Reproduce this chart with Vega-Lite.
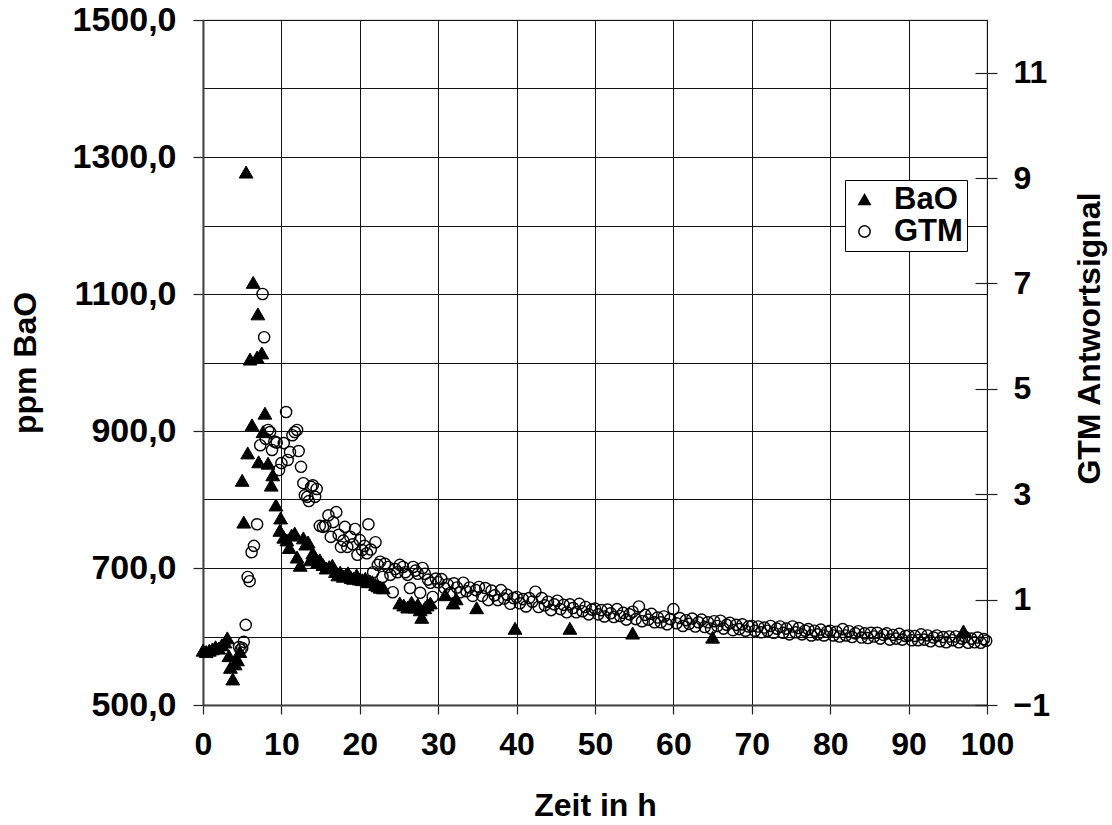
{
  "$schema": "https://vega.github.io/schema/vega-lite/v6.json",
  "width": 784,
  "height": 685,
  "autosize": {"type": "none"},
  "padding": {"left": 203, "top": 20, "right": 125, "bottom": 120},
  "background": "white",
  "config": {
    "font": "Liberation Sans",
    "view": {"stroke": "#7f7f7f", "strokeWidth": 1.2},
    "axis": {
      "labelFont": "Liberation Sans",
      "labelFontWeight": "bold",
      "labelColor": "black",
      "titleFont": "Liberation Sans",
      "titleFontWeight": "bold",
      "titleColor": "black",
      "tickColor": "#222",
      "tickWidth": 1.2,
      "domainColor": "#444",
      "domainWidth": 2,
      "gridColor": "#111",
      "gridWidth": 1,
      "gridOpacity": 1
    }
  },
  "datasets": {
    "bao": [
      {"t": 0.0, "v": 580}, {"t": 0.4, "v": 578}, {"t": 0.8, "v": 580}, {"t": 1.2, "v": 582},
      {"t": 1.6, "v": 585}, {"t": 2.0, "v": 583}, {"t": 2.4, "v": 588}, {"t": 2.8, "v": 592},
      {"t": 3.1, "v": 598}, {"t": 3.3, "v": 572}, {"t": 3.5, "v": 555}, {"t": 3.8, "v": 538},
      {"t": 4.1, "v": 560}, {"t": 4.4, "v": 566}, {"t": 4.7, "v": 578}, {"t": 5.0, "v": 828},
      {"t": 5.2, "v": 767}, {"t": 5.5, "v": 1278}, {"t": 5.7, "v": 868}, {"t": 6.0, "v": 1005},
      {"t": 6.25, "v": 909}, {"t": 6.4, "v": 1117}, {"t": 6.9, "v": 1008}, {"t": 7.0, "v": 1071},
      {"t": 7.1, "v": 855}, {"t": 7.5, "v": 1014}, {"t": 7.65, "v": 899}, {"t": 7.9, "v": 926},
      {"t": 8.3, "v": 853}, {"t": 8.7, "v": 821}, {"t": 8.9, "v": 836}, {"t": 9.3, "v": 792},
      {"t": 9.8, "v": 755}, {"t": 9.9, "v": 773}, {"t": 10.3, "v": 745}, {"t": 10.7, "v": 741},
      {"t": 11.0, "v": 730}, {"t": 11.3, "v": 748}, {"t": 11.7, "v": 751}, {"t": 12.0, "v": 716},
      {"t": 12.4, "v": 704}, {"t": 12.8, "v": 744}, {"t": 13.1, "v": 735}, {"t": 13.4, "v": 738},
      {"t": 13.7, "v": 712}, {"t": 14.0, "v": 722}, {"t": 14.3, "v": 716}, {"t": 14.6, "v": 708},
      {"t": 14.9, "v": 712}, {"t": 15.3, "v": 705}, {"t": 15.7, "v": 700}, {"t": 16.1, "v": 702},
      {"t": 16.5, "v": 704}, {"t": 16.9, "v": 695}, {"t": 17.2, "v": 690}, {"t": 17.5, "v": 694},
      {"t": 17.9, "v": 688}, {"t": 18.2, "v": 690}, {"t": 18.5, "v": 693}, {"t": 18.9, "v": 686},
      {"t": 19.2, "v": 685}, {"t": 19.6, "v": 690}, {"t": 19.9, "v": 684}, {"t": 20.3, "v": 683},
      {"t": 20.7, "v": 685}, {"t": 21.0, "v": 680}, {"t": 21.3, "v": 681}, {"t": 21.6, "v": 680},
      {"t": 22.0, "v": 676}, {"t": 22.3, "v": 674}, {"t": 22.6, "v": 672}, {"t": 23.0, "v": 671},
      {"t": 25.1, "v": 649}, {"t": 25.6, "v": 646}, {"t": 26.1, "v": 643}, {"t": 26.6, "v": 650},
      {"t": 27.0, "v": 643}, {"t": 27.4, "v": 647}, {"t": 27.7, "v": 639}, {"t": 27.9, "v": 628},
      {"t": 28.3, "v": 642}, {"t": 28.6, "v": 646}, {"t": 29.0, "v": 649}, {"t": 30.9, "v": 661},
      {"t": 31.9, "v": 649}, {"t": 32.3, "v": 655}, {"t": 34.9, "v": 642}, {"t": 39.8, "v": 612},
      {"t": 46.8, "v": 612}, {"t": 54.8, "v": 605}, {"t": 65.0, "v": 599}, {"t": 97.0, "v": 608}
    ],
    "gtm": [
      {"t": 4.6, "g": 0.1}, {"t": 4.8, "g": 0.05}, {"t": 5.0, "g": 0.08}, {"t": 5.2, "g": 0.2},
      {"t": 5.45, "g": 0.52}, {"t": 5.7, "g": 1.43}, {"t": 5.95, "g": 1.35}, {"t": 6.2, "g": 1.9},
      {"t": 6.5, "g": 2.02}, {"t": 6.9, "g": 2.43}, {"t": 7.3, "g": 3.93}, {"t": 7.6, "g": 6.8},
      {"t": 7.8, "g": 5.98}, {"t": 8.0, "g": 4.05}, {"t": 8.3, "g": 4.22}, {"t": 8.55, "g": 4.18},
      {"t": 8.8, "g": 3.84}, {"t": 9.1, "g": 4.0}, {"t": 9.4, "g": 3.98}, {"t": 9.7, "g": 3.46},
      {"t": 10.0, "g": 3.59}, {"t": 10.3, "g": 3.97}, {"t": 10.6, "g": 4.56}, {"t": 10.8, "g": 3.65},
      {"t": 11.1, "g": 3.8}, {"t": 11.4, "g": 4.12}, {"t": 11.7, "g": 4.18}, {"t": 12.0, "g": 4.22},
      {"t": 12.2, "g": 3.82}, {"t": 12.5, "g": 3.52}, {"t": 12.8, "g": 3.21}, {"t": 13.0, "g": 2.98},
      {"t": 13.3, "g": 2.95}, {"t": 13.5, "g": 2.87}, {"t": 13.8, "g": 3.14}, {"t": 14.0, "g": 3.17},
      {"t": 14.3, "g": 2.95}, {"t": 14.5, "g": 3.1}, {"t": 14.9, "g": 2.4}, {"t": 15.3, "g": 2.38},
      {"t": 15.6, "g": 2.4}, {"t": 16.0, "g": 2.6}, {"t": 16.3, "g": 2.19}, {"t": 16.6, "g": 2.47},
      {"t": 17.0, "g": 2.66}, {"t": 17.3, "g": 2.23}, {"t": 17.6, "g": 2.0}, {"t": 17.9, "g": 2.12},
      {"t": 18.1, "g": 2.38}, {"t": 18.4, "g": 2.0}, {"t": 18.8, "g": 2.19}, {"t": 19.1, "g": 2.05},
      {"t": 19.4, "g": 2.34}, {"t": 19.7, "g": 1.85}, {"t": 20.0, "g": 2.13}, {"t": 20.3, "g": 1.94},
      {"t": 20.6, "g": 2.02}, {"t": 20.9, "g": 1.88}, {"t": 21.1, "g": 2.43}, {"t": 21.4, "g": 1.95},
      {"t": 21.7, "g": 1.52}, {"t": 22.0, "g": 2.09}, {"t": 22.3, "g": 1.66}, {"t": 22.6, "g": 1.72},
      {"t": 22.9, "g": 1.43}, {"t": 23.2, "g": 1.68}, {"t": 23.6, "g": 1.62}, {"t": 23.9, "g": 1.47},
      {"t": 24.2, "g": 1.14}, {"t": 24.5, "g": 1.58}, {"t": 24.8, "g": 1.52}, {"t": 25.1, "g": 1.66},
      {"t": 25.5, "g": 1.62}, {"t": 25.8, "g": 1.52}, {"t": 26.1, "g": 1.47}, {"t": 26.4, "g": 1.22},
      {"t": 26.8, "g": 1.62}, {"t": 27.1, "g": 1.55}, {"t": 27.4, "g": 1.49}, {"t": 27.7, "g": 1.13},
      {"t": 28.0, "g": 1.6}, {"t": 28.3, "g": 1.49}, {"t": 28.7, "g": 1.38}, {"t": 29.0, "g": 1.32},
      {"t": 29.3, "g": 1.05}, {"t": 29.7, "g": 1.4}, {"t": 30.0, "g": 1.33},
      {"t": 30.4, "g": 1.39}, {"t": 30.8, "g": 1.22}, {"t": 31.2, "g": 1.29}, {"t": 31.6, "g": 1.13},
      {"t": 32.0, "g": 1.31}, {"t": 32.4, "g": 1.23}, {"t": 32.8, "g": 1.14}, {"t": 33.2, "g": 1.32},
      {"t": 33.6, "g": 1.16}, {"t": 34.0, "g": 1.23}, {"t": 34.4, "g": 1.07}, {"t": 34.8, "g": 1.18},
      {"t": 35.2, "g": 1.24}, {"t": 35.6, "g": 1.07}, {"t": 36.0, "g": 1.22}, {"t": 36.4, "g": 0.99},
      {"t": 36.8, "g": 1.17}, {"t": 37.2, "g": 1.08}, {"t": 37.6, "g": 0.99}, {"t": 38.0, "g": 1.18},
      {"t": 38.4, "g": 1.02}, {"t": 38.8, "g": 1.09}, {"t": 39.2, "g": 0.92}, {"t": 39.6, "g": 1.03},
      {"t": 40.0, "g": 1.05}, {"t": 40.4, "g": 0.93}, {"t": 40.8, "g": 1.01}, {"t": 41.2, "g": 0.87},
      {"t": 41.6, "g": 1.03}, {"t": 42.0, "g": 0.96}, {"t": 42.4, "g": 1.15}, {"t": 42.8, "g": 0.86},
      {"t": 43.2, "g": 1.03}, {"t": 43.6, "g": 0.89}, {"t": 44.0, "g": 0.96}, {"t": 44.4, "g": 0.8},
      {"t": 44.8, "g": 0.91}, {"t": 45.2, "g": 0.98}, {"t": 45.6, "g": 0.82}, {"t": 46.0, "g": 0.9},
      {"t": 46.4, "g": 0.76}, {"t": 46.8, "g": 0.91}, {"t": 47.2, "g": 0.84}, {"t": 47.6, "g": 0.76},
      {"t": 48.0, "g": 0.92}, {"t": 48.4, "g": 0.78}, {"t": 48.8, "g": 0.86}, {"t": 49.2, "g": 0.72},
      {"t": 49.6, "g": 0.81}, {"t": 50.0, "g": 0.83}, {"t": 50.4, "g": 0.72}, {"t": 50.8, "g": 0.8},
      {"t": 51.2, "g": 0.68}, {"t": 51.6, "g": 0.81}, {"t": 52.0, "g": 0.74}, {"t": 52.4, "g": 0.67},
      {"t": 52.8, "g": 0.82}, {"t": 53.2, "g": 0.69}, {"t": 53.6, "g": 0.75}, {"t": 54.0, "g": 0.62},
      {"t": 54.4, "g": 0.72}, {"t": 54.8, "g": 0.77}, {"t": 55.2, "g": 0.63}, {"t": 55.6, "g": 0.87},
      {"t": 56.0, "g": 0.59}, {"t": 56.4, "g": 0.71}, {"t": 56.8, "g": 0.62}, {"t": 57.2, "g": 0.73},
      {"t": 57.6, "g": 0.57}, {"t": 58.0, "g": 0.66}, {"t": 58.4, "g": 0.57}, {"t": 58.8, "g": 0.68},
      {"t": 59.2, "g": 0.53}, {"t": 59.6, "g": 0.63}, {"t": 60.0, "g": 0.82}, {"t": 60.4, "g": 0.55},
      {"t": 60.8, "g": 0.65}, {"t": 61.2, "g": 0.5}, {"t": 61.6, "g": 0.61}, {"t": 62.0, "g": 0.54},
      {"t": 62.4, "g": 0.64}, {"t": 62.8, "g": 0.49}, {"t": 63.2, "g": 0.57}, {"t": 63.6, "g": 0.62},
      {"t": 64.0, "g": 0.48}, {"t": 64.4, "g": 0.57}, {"t": 64.8, "g": 0.45}, {"t": 65.2, "g": 0.59},
      {"t": 65.6, "g": 0.5}, {"t": 66.0, "g": 0.6}, {"t": 66.4, "g": 0.45}, {"t": 66.8, "g": 0.52},
      {"t": 67.2, "g": 0.56}, {"t": 67.6, "g": 0.42}, {"t": 68.0, "g": 0.52}, {"t": 68.4, "g": 0.44},
      {"t": 68.8, "g": 0.53}, {"t": 69.2, "g": 0.41}, {"t": 69.6, "g": 0.49}, {"t": 70.0, "g": 0.5},
      {"t": 70.4, "g": 0.41}, {"t": 70.8, "g": 0.49}, {"t": 71.2, "g": 0.38}, {"t": 71.6, "g": 0.47},
      {"t": 72.0, "g": 0.41}, {"t": 72.4, "g": 0.5}, {"t": 72.8, "g": 0.37}, {"t": 73.2, "g": 0.45},
      {"t": 73.6, "g": 0.49}, {"t": 74.0, "g": 0.37}, {"t": 74.4, "g": 0.45}, {"t": 74.8, "g": 0.34},
      {"t": 75.2, "g": 0.49}, {"t": 75.6, "g": 0.38}, {"t": 76.0, "g": 0.46}, {"t": 76.4, "g": 0.34},
      {"t": 76.8, "g": 0.41}, {"t": 77.2, "g": 0.44}, {"t": 77.6, "g": 0.32}, {"t": 78.0, "g": 0.41},
      {"t": 78.4, "g": 0.34}, {"t": 78.8, "g": 0.43}, {"t": 79.2, "g": 0.32}, {"t": 79.6, "g": 0.39},
      {"t": 80.0, "g": 0.41}, {"t": 80.4, "g": 0.32}, {"t": 80.8, "g": 0.39}, {"t": 81.2, "g": 0.3},
      {"t": 81.6, "g": 0.44}, {"t": 82.0, "g": 0.32}, {"t": 82.4, "g": 0.4}, {"t": 82.8, "g": 0.29},
      {"t": 83.2, "g": 0.36}, {"t": 83.6, "g": 0.4}, {"t": 84.0, "g": 0.28}, {"t": 84.4, "g": 0.36},
      {"t": 84.8, "g": 0.27}, {"t": 85.2, "g": 0.37}, {"t": 85.6, "g": 0.3}, {"t": 86.0, "g": 0.37},
      {"t": 86.4, "g": 0.26}, {"t": 86.8, "g": 0.33}, {"t": 87.2, "g": 0.36}, {"t": 87.6, "g": 0.24},
      {"t": 88.0, "g": 0.33}, {"t": 88.4, "g": 0.26}, {"t": 88.8, "g": 0.35}, {"t": 89.2, "g": 0.24},
      {"t": 89.6, "g": 0.31}, {"t": 90.0, "g": 0.32}, {"t": 90.4, "g": 0.23}, {"t": 90.8, "g": 0.31},
      {"t": 91.2, "g": 0.23}, {"t": 91.6, "g": 0.34}, {"t": 92.0, "g": 0.24}, {"t": 92.4, "g": 0.32},
      {"t": 92.8, "g": 0.21}, {"t": 93.2, "g": 0.28}, {"t": 93.6, "g": 0.32}, {"t": 94.0, "g": 0.21},
      {"t": 94.4, "g": 0.29}, {"t": 94.8, "g": 0.19}, {"t": 95.2, "g": 0.3}, {"t": 95.6, "g": 0.23},
      {"t": 96.0, "g": 0.3}, {"t": 96.4, "g": 0.19}, {"t": 96.8, "g": 0.26}, {"t": 97.2, "g": 0.29},
      {"t": 97.6, "g": 0.18}, {"t": 98.0, "g": 0.26}, {"t": 98.4, "g": 0.19}, {"t": 98.8, "g": 0.28},
      {"t": 99.2, "g": 0.18}, {"t": 99.6, "g": 0.25}, {"t": 99.9, "g": 0.22}
    ]
  },
  "layer": [
    {
      "data": {"name": "bao"},
      "mark": {"type": "point", "stroke": "black", "strokeWidth": 1, "opacity": 1, "size": 190},
      "encoding": {
        "x": {
          "field": "t", "type": "quantitative",
          "scale": {"domain": [0, 100], "nice": false, "zero": false},
          "axis": {
            "values": [0, 10, 20, 30, 40, 50, 60, 70, 80, 90, 100],
            "title": "Zeit in h", "titleFontSize": 32, "titlePadding": 30,
            "labelFontSize": 32, "labelPadding": 15, "tickSize": 9,
            "grid": true, "labelFlush": false
          }
        },
        "y": {
          "field": "v", "type": "quantitative",
          "scale": {"domain": [500, 1500], "nice": false, "zero": false},
          "axis": {
            "orient": "left",
            "values": [500, 600, 700, 800, 900, 1000, 1100, 1200, 1300, 1400, 1500],
            "labelExpr": "datum.value % 200 == 0 ? '' : replace(format(datum.value, '.1f'), '.', ',')",
            "tickOpacity": {"condition": {"test": "datum.value % 200 == 0", "value": 0}, "value": 1},
            "title": "ppm BaO", "titleFontSize": 32, "titlePadding": 30,
            "labelFontSize": 34, "labelPadding": 17, "tickSize": 10,
            "grid": true, "labelFlush": false
          }
        },
        "shape": {
          "datum": "BaO", "type": "nominal",
          "scale": {"domain": ["BaO", "GTM"], "range": ["triangle-up", "circle"]},
          "legend": {
            "title": null, "orient": "none", "legendX": 642, "legendY": 160,
            "labelFontSize": 31, "labelFontWeight": "bold", "labelFont": "Liberation Sans",
            "labelColor": "black", "symbolSize": 130,
            "strokeColor": "black", "fillColor": "white",
            "padding": 4, "rowPadding": 0, "labelOffset": 14,
            "encode": {
              "symbols": {
                "update": {
                  "stroke": {"value": "black"},
                  "strokeWidth": {"value": 1.3},
                  "fill": {"signal": "datum.value === 'BaO' ? 'black' : 'transparent'"},
                  "opacity": {"value": 1}
                }
              }
            }
          }
        },
        "fill": {
          "datum": "BaO", "type": "nominal",
          "scale": {"domain": ["BaO", "GTM"], "range": ["black", "transparent"]},
          "legend": null
        }
      }
    },
    {
      "data": {"name": "gtm"},
      "mark": {"type": "point", "stroke": "black", "strokeWidth": 1.4, "opacity": 1, "size": 125},
      "encoding": {
        "x": {"field": "t", "type": "quantitative"},
        "y": {
          "field": "g", "type": "quantitative",
          "scale": {"domain": [-1, 12], "nice": false, "zero": false},
          "axis": {
            "orient": "right", "offset": -12, "domain": false,
            "values": [-1, 1, 3, 5, 7, 9, 11],
            "title": "GTM Antwortsignal", "titleFontSize": 32, "titleAngle": 270, "titlePadding": 57,
            "titleY": 318,
            "labelFontSize": 32, "labelPadding": 16, "tickSize": 22,
            "grid": false, "labelFlush": false
          }
        },
        "shape": {"datum": "GTM", "type": "nominal"},
        "fill": {"datum": "GTM", "type": "nominal", "legend": null}
      }
    }
  ],
  "resolve": {"scale": {"y": "independent"}}
}
